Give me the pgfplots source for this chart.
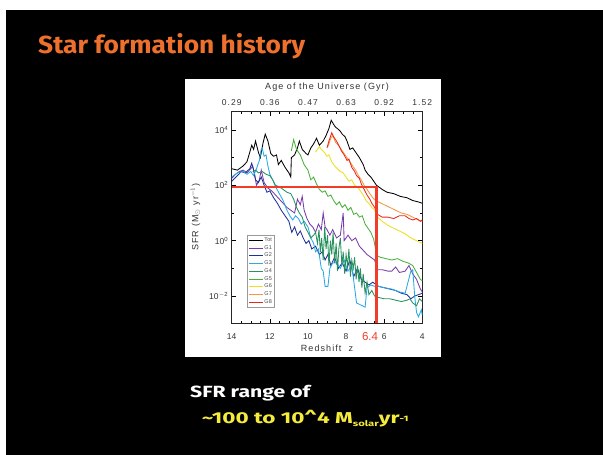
\documentclass[border=0pt]{standalone}
\usepackage{fontspec}
\setmainfont{Liberation Sans}
\newfontfamily\titlefont{Fira Sans}
\newfontfamily\axfont{Liberation Sans}[LetterSpace=12]
\usepackage{graphicx}
\usepackage{pgfplots}
\pgfplotsset{compat=1.18}
\definecolor{cG1}{RGB}{120,60,170}
\definecolor{cG2}{RGB}{30,50,150}
\definecolor{cG3}{RGB}{40,170,230}
\definecolor{cG4}{RGB}{40,145,95}
\definecolor{cG5}{RGB}{75,175,60}
\definecolor{cG6}{RGB}{235,225,30}
\definecolor{cG7}{RGB}{245,150,70}
\definecolor{cG8}{RGB}{235,40,30}
\definecolor{annot}{RGB}{240,60,40}
\definecolor{titleorange}{RGB}{238,112,45}
\definecolor{slideyellow}{RGB}{245,235,60}
\begin{document}
\begin{tikzpicture}
\fill[white] (0pt,0pt) rectangle (603pt,455pt);
\fill[black] (6pt,0pt) rectangle (603pt,445pt);
\useasboundingbox (0pt,0pt) rectangle (603pt,455pt);
\fill[white] (185pt,98pt) rectangle (441pt,376pt);
\node[anchor=base west, inner sep=0pt, text=titleorange] at (38pt,401.7pt)
  {\resizebox{267pt}{20pt}{\titlefont\bfseries Star formation history}};
\node[anchor=base west, inner sep=0pt, text=white] at (190pt,57.7pt)
  {\resizebox{120pt}{12.3pt}{\titlefont\bfseries SFR range of}};
\node[anchor=base west, inner sep=0pt, text=slideyellow] at (201.7pt,31pt)
  {\resizebox{206.7pt}{13.3pt}{\titlefont\bfseries \textasciitilde100 to 10\textasciicircum4 M\raisebox{-1.4pt}{\fontsize{5}{5}\selectfont solar}yr\raisebox{1.3pt}{\fontsize{5}{5}\selectfont -1}}};
\begin{axis}[
  at={(231.7pt,132pt)}, anchor=south west, scale only axis,
  width=190.6pt, height=211.3pt,
  x dir=reverse, xmin=4, xmax=14,
  ymode=log, ymin=1.06e-3, ymax=4.58e4,
  xtick={4,6,8,10,12,14}, xticklabels={4,6,8,10,12,14},
  minor x tick num=3,
  ytick={1e-2,1,1e2,1e4},
  yticklabels={10\textsuperscript{$-$2},10\textsuperscript{0},10\textsuperscript{2},10\textsuperscript{4}},
  minor ytick={1e-3,1e-1,1e1,1e3},
  tick align=inside, major tick length=4pt, minor tick length=2pt,
  tick style={black, line width=0.5pt},
  axis line style={line width=0.6pt, black!85},
  every tick label/.append style={font=\fontsize{8.5}{9}\selectfont, text=black!80},
  xticklabel style={anchor=base, yshift=-17pt},
  yticklabel style={font=\fontsize{8.5}{9}\selectfont},
  xlabel={\axfont Redshift\ \ z},
  xlabel style={at={(axis description cs:0.5,0)}, anchor=base, yshift=-29pt, font=\fontsize{9}{10}\selectfont, text=black!80},
  ylabel={\axfont SFR (M$_\odot$ yr$^{-1}$)},
  ylabel style={at={(axis description cs:-0.175,0.5)}, anchor=base, font=\fontsize{9}{10}\selectfont, text=black!80},
  legend style={at={(axis description cs:0.08,0.4165)}, anchor=north west,
    font=\fontsize{5.5}{6}\selectfont, draw=gray!80, fill=white, text=gray!60!black,
    row sep=0.4pt, inner sep=1.5pt, nodes={inner sep=1pt}},
  legend cell align=left,
  legend image code/.code={\draw[#1] (0pt,0pt) -- (14pt,0pt);},
  every axis plot/.append style={line width=0.85pt},
]
% Tot
\addplot[black] coordinates {
(14.0,398) (13.7,355) (13.4,501) (13.2,708) (13.05,1585) (12.95,2818) (12.85,1995)
(12.75,3981) (12.6,1585) (12.5,1000) (12.35,3548) (12.24,7079) (12.1,3981) (11.95,1413)
(11.8,1122) (11.65,1259) (11.55,562) (11.4,794) (11.2,447) (11.0,282) (10.9,200)
(10.87,1000) (10.7,1259) (10.55,2239) (10.45,3981) (10.3,1995) (10.1,1413) (10.0,1259)
(9.85,2239) (9.7,3162) (9.55,5012) (9.4,2818) (9.2,3981) (9.05,6310) (8.9,11220)
(8.78,22390) (8.65,15850) (8.55,12590) (8.45,11220) (8.3,8913) (8.2,7079) (8.05,5623)
(7.95,3981) (7.8,1995) (7.65,2239) (7.45,1413) (7.3,1000) (7.1,562) (7.0,355)
(6.85,251) (6.7,200) (6.5,126) (6.4,100) (6.1,70.8) (5.85,56.2) (5.5,50.1)
(5.15,39.8) (4.8,35.5) (4.5,28.2) (4.2,25.1) (4.0,22.4)};
\addlegendentry{Tot}
% G1
\addplot[cG1] coordinates {
(14.0,178) (13.8,251) (13.6,316) (13.4,355) (13.2,282) (13.0,398) (12.9,501) (12.8,251)
(12.7,100) (12.55,158) (12.45,355) (12.3,126) (12.1,79.4) (11.9,63.1) (11.7,44.7)
(11.5,31.6) (11.3,22.4) (11.1,15.85) (10.9,12.59) (10.7,10) (10.55,31.6) (10.4,19.95)
(10.3,39.8) (10.2,12.59) (10.05,6.31) (9.9,3.98) (9.75,3.16) (9.6,2.0) (9.45,3.98)
(9.3,2.51) (9.2,10) (9.1,3.16) (9.0,2.51) (8.85,1.58) (8.7,2.51) (8.5,1.26) (8.3,1.58)
(8.15,10) (8.1,1.0) (7.9,1.58) (7.7,1.0) (7.5,1.26) (7.3,0.631) (7.1,0.447) (6.9,0.316)
(6.7,0.251) (6.5,0.2) (6.35,0.0891) (6.1,0.0891) (5.8,0.0794) (5.6,0.0794) (5.4,0.112)
(5.2,0.0708) (4.9,0.0794) (4.7,0.126) (4.5,0.0631) (4.3,0.0398) (4.1,0.0178) (4.0,0.0141)};
\addlegendentry{G1}
% G2
\addplot[cG2] coordinates {
(14.0,141) (13.7,224) (13.5,316) (13.3,282) (13.05,398) (12.95,631) (12.85,355) (12.75,158)
(12.6,126) (12.45,200) (12.3,100) (12.15,56.2) (12.0,63.1) (11.8,35.5) (11.6,22.4)
(11.4,12.59) (11.2,7.94) (11.0,5.01) (10.85,2.0) (10.7,3.16) (10.55,1.58) (10.4,2.24)
(10.25,1.26) (10.1,0.794) (9.95,1.0) (9.8,0.501) (9.6,0.631) (9.4,0.316) (9.25,0.398)
(9.1,0.2) (8.95,0.316) (8.8,0.126) (8.6,0.251) (8.4,0.1) (8.2,0.158) (8.0,0.0794)
(7.8,0.2) (7.6,0.0501) (7.4,0.1) (7.2,0.0398) (7.0,0.0316) (6.8,0.0251) (6.6,0.0316)
(6.4,0.0251) (6.3,0.0224) (6.0,0.02) (5.7,0.0178) (5.4,0.0158) (5.1,0.0126) (4.8,0.0112)
(4.6,0.00794) (4.4,0.01) (4.2,0.0112) (4.0,0.0126)};
\addlegendentry{G2}
% G3
\addplot[cG3] coordinates {
(14.0,200) (13.7,282) (13.4,316) (13.2,251) (13.0,316) (12.85,224) (12.7,398) (12.55,794)
(12.45,1995) (12.4,2239) (12.3,1122) (12.2,1259) (12.1,501) (12.0,251) (11.85,158)
(11.7,89.1) (11.5,50.1) (11.3,28.2) (11.1,12.59) (10.95,7.94) (10.8,5.62) (10.65,7.94)
(10.5,6.31) (10.35,3.98) (10.2,5.01) (10.0,3.16) (9.85,1.26) (9.7,0.794) (9.6,0.398)
(9.45,0.501) (9.3,0.1) (9.2,0.0794) (9.1,0.0224) (8.95,0.0224) (8.85,0.1) (8.7,0.158)
(8.5,0.158) (8.3,0.1) (8.1,0.2) (7.9,0.0794) (7.7,0.126) (7.55,0.02) (7.45,0.00562)
(7.0,0.00398) (6.9,0.02) (6.7,0.0251) (6.5,0.0224) (6.3,0.0224) (6.0,0.02) (5.6,0.0178)
(5.2,0.0141) (4.9,0.0126) (4.6,0.0794) (4.5,0.0891) (4.4,0.01) (4.3,0.00251) (4.2,0.00178)
(4.05,0.00316) (4.0,0.002)};
\addlegendentry{G3}
% G4
\addplot[cG4] coordinates {
(12.9,316) (12.75,355) (12.6,282) (12.4,316) (12.2,251) (12.0,224) (11.85,158) (11.7,100)
(11.5,89.1) (11.3,70.8) (11.1,56.2) (10.9,50.1) (10.75,31.6) (10.6,15.85) (10.45,10)
(10.3,7.08) (10.15,3.16) (10.0,2.0) (9.85,1.26) (9.7,1.58) (9.6,2.0) (9.5,0.794)
(9.42,2.51) (9.35,0.398) (9.28,1.26) (9.2,0.2) (9.12,3.16) (9.05,0.501) (8.97,1.58)
(8.9,0.126) (8.82,1.0) (8.75,0.316) (8.68,2.0) (8.6,0.158) (8.52,0.794) (8.45,0.0794)
(8.38,0.501) (8.3,1.26) (8.22,0.126) (8.15,0.398) (8.07,0.0631) (8.0,0.316) (7.92,0.126)
(7.85,0.501) (7.77,0.0501) (7.7,0.2) (7.62,0.1) (7.55,0.251) (7.47,0.0398) (7.4,0.126)
(7.32,0.0316) (7.25,0.1) (7.17,0.02) (7.1,0.0631) (7.0,0.0126) (6.9,0.0316) (6.8,0.0112)
(6.65,0.0158) (6.5,0.01) (6.3,0.00891) (6.0,0.00794) (5.7,0.00794) (5.4,0.00708)
(5.1,0.00631) (4.8,0.00708) (4.65,0.00794) (4.5,0.00562) (4.3,0.00447) (4.15,0.00794)
(4.0,0.00631)};
\addlegendentry{G4}
% G5
\addplot[cG5] coordinates {
(10.87,1778) (10.75,4467) (10.6,1995) (10.4,1259) (10.2,562) (10.0,355) (9.85,158)
(9.7,200) (9.55,112) (9.4,70.8) (9.25,56.2) (9.1,63.1) (8.95,39.8) (8.8,44.7) (8.65,28.2)
(8.5,19.95) (8.35,25.1) (8.2,15.85) (8.05,19.95) (7.9,12.59) (7.75,15.85) (7.6,8.91)
(7.45,10) (7.3,7.08) (7.15,7.94) (7.0,3.98) (6.85,2.82) (6.7,2.0) (6.55,1.12) (6.45,0.501)
(6.35,0.282) (6.2,0.251) (5.9,0.224) (5.6,0.2) (5.3,0.224) (5.0,0.178) (4.75,0.158)
(4.5,0.126) (4.3,0.0708) (4.1,0.0398) (4.0,0.0355)};
\addlegendentry{G5}
% G6
\addplot[cG6] coordinates {
(9.6,1585) (9.5,1995) (9.4,2512) (9.3,1995) (9.15,1585) (9.0,1122) (8.9,1259) (8.75,708)
(8.6,501) (8.45,398) (8.3,316) (8.15,282) (8.0,200) (7.85,141) (7.7,158) (7.55,100)
(7.4,89.1) (7.25,63.1) (7.1,44.7) (6.95,28.2) (6.8,22.4) (6.65,15.85) (6.5,12.59)
(6.35,7.08) (6.1,5.01) (5.8,3.55) (5.5,2.82) (5.2,2.24) (4.9,1.78) (4.6,1.26) (4.3,1.0)
(4.0,0.794)};
\addlegendentry{G6}
% G7
\addplot[cG7] coordinates {
(8.95,2512) (8.8,5012) (8.7,6310) (8.55,3548) (8.4,2818) (8.25,1995) (8.1,1413) (7.95,1000)
(7.8,708) (7.65,501) (7.5,355) (7.35,224) (7.2,158) (7.05,100) (6.9,70.8) (6.75,50.1)
(6.6,35.5) (6.45,28.2) (6.3,25.1) (6.0,19.95) (5.7,15.85) (5.4,12.59) (5.1,10) (4.8,8.91)
(4.5,7.08) (4.2,5.62) (4.0,5.01)};
\addlegendentry{G7}
% G8
\addplot[cG8] coordinates {
(9.0,2239) (8.9,3981) (8.75,7943) (8.65,5623) (8.5,3981) (8.35,2512) (8.25,1778) (8.1,1259)
(7.95,794) (7.85,891) (7.7,447) (7.55,316) (7.45,224) (7.3,178) (7.2,112) (7.05,70.8)
(6.9,44.7) (6.75,31.6) (6.65,22.4) (6.5,15.85) (6.35,8.91) (6.1,7.08) (5.8,7.08) (5.5,6.31)
(5.2,7.94) (4.9,7.94) (4.7,6.31) (4.5,5.62) (4.3,6.31) (4.1,5.01) (4.0,5.62)};
\addlegendentry{G8}
% annotation lines
\addplot[annot, line width=2.8pt, forget plot] coordinates {(14,87) (6.4,87) (6.4,1.06e-3)};
\end{axis}
\begin{axis}[
  at={(231.7pt,132pt)}, anchor=south west, scale only axis,
  width=190.6pt, height=211.3pt,
  x dir=reverse, xmin=4, xmax=14, ymin=0, ymax=1,
  axis x line*=top, axis y line=none,
  axis line style={line width=0.6pt, black!85},
  xtick={4,6,8,10,12,14}, xticklabels={1.52,0.92,0.63,0.47,0.36,0.29},
  xtick style={draw=none},
  xticklabel style={anchor=base, yshift=5.7pt, font=\fontsize{8.5}{9}\selectfont\axfont, text=black!80},
  xlabel={\axfont Age of the Universe (Gyr)},
  xlabel style={at={(axis description cs:0.5,1)}, anchor=base, yshift=21.7pt, font=\fontsize{9}{10}\selectfont, text=black!80},
]
\end{axis}
\node[anchor=base, inner sep=0pt, text=annot, font=\fontsize{11.5}{12}\selectfont] at (370pt,114.7pt) {6.4};
\end{tikzpicture}
\end{document}
